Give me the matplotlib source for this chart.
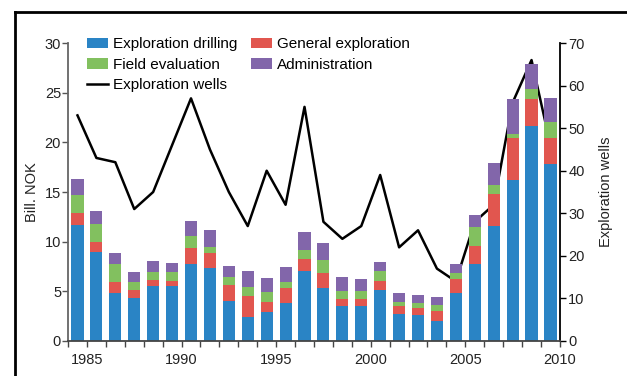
import numpy as np
import matplotlib.pyplot as plt
from matplotlib.lines import Line2D

plt.rcParams['font.family'] = ['Liberation Sans', 'DejaVu Sans']
plt.rcParams['font.size'] = 10.5

years = list(range(1985, 2011))

# Bill. NOK
drilling = [11.7, 9.0, 4.8, 4.35, 5.55, 5.55, 7.75, 7.35, 4.0, 2.4,
            2.9, 3.8, 7.05, 5.35, 3.5, 3.5, 5.15, 2.7, 2.6, 2.0,
            4.8, 7.75, 11.6, 16.2, 21.65, 17.8]
general = [1.2, 1.0, 1.15, 0.8, 0.6, 0.5, 1.6, 1.5, 1.6, 2.1,
           1.0, 1.55, 1.2, 1.5, 0.7, 0.7, 0.9, 0.8, 0.7, 1.0,
           1.45, 1.8, 3.2, 4.25, 2.7, 2.6]
field_eval = [1.75, 1.8, 1.8, 0.8, 0.8, 0.9, 1.2, 0.6, 0.8, 0.9,
              1.0, 0.55, 0.9, 1.3, 0.8, 0.8, 1.0, 0.4, 0.5, 0.6,
              0.6, 1.9, 0.9, 0.4, 1.0, 1.6]
admin = [1.7, 1.3, 1.1, 1.0, 1.1, 0.9, 1.5, 1.7, 1.2, 1.6,
         1.4, 1.5, 1.8, 1.7, 1.4, 1.2, 0.9, 0.9, 0.8, 0.8,
         0.9, 1.2, 2.2, 3.5, 2.5, 2.5]

# number of exploration wells (right axis)
wells = [53, 43, 42, 31, 35, 46, 57, 45, 35, 27,
         40, 32, 55, 28, 24, 27, 39, 22, 26, 17,
         14, 28, 32, 56, 66, 46]

year_labels = ["1985", "1990", "1995", "2000", "2005", "2010"]

c_drill = "#2a84c5"
c_general = "#e1564f"
c_field = "#82c05f"
c_admin = "#8266aa"

fig = plt.figure(figsize=(6.27, 3.76), dpi=100)
ax = fig.add_axes([0.1085, 0.0931, 0.7845, 0.7925])

x = np.arange(len(years))
w = 0.64
b1 = np.array(drilling)
b2 = b1 + np.array(general)
b3 = b2 + np.array(field_eval)

h_drill = ax.bar(x, drilling, w, color=c_drill, label="Exploration drilling")
h_gen = ax.bar(x, general, w, bottom=b1, color=c_general, label="General exploration")
h_field = ax.bar(x, field_eval, w, bottom=b2, color=c_field, label="Field evaluation")
h_admin = ax.bar(x, admin, w, bottom=b3, color=c_admin, label="Administration")

ax.set_xlim(-0.5, len(years) - 0.5)
ax.set_ylim(0, 30)
ax.set_yticks(range(0, 31, 5))
ax.set_ylabel("Bill. NOK", color="#222222", labelpad=4)

# year labels every 5 years, small ticks between every bar
ax.set_xticks([i + 0.5 for i in range(0, len(years), 5)])
ax.set_xticklabels(year_labels)
ax.set_xticks([i + 0.5 for i in range(-1, len(years))], minor=True)
ax.tick_params(axis="x", which="both", direction="out", length=4, width=1,
               color="#444444", pad=5, labelcolor="#222222")
ax.tick_params(axis="y", direction="out", length=4, width=1, color="#555555",
               labelcolor="#222222", pad=1)

for s in ["top", "right"]:
    ax.spines[s].set_visible(False)
ax.spines["left"].set_color("#666666")
ax.spines["bottom"].set_color("#444444")
ax.spines["left"].set_linewidth(1.3)
ax.spines["bottom"].set_linewidth(1.3)

ax2 = ax.twinx()
h_wells, = ax2.plot(x, wells, color="black", linewidth=1.8, label="Exploration wells")
ax2.set_ylim(0, 70)
ax2.set_yticks(range(0, 71, 10))
ax2.set_ylabel("Exploration wells", color="#222222", labelpad=10)
for s in ["top", "left", "bottom"]:
    ax2.spines[s].set_visible(False)
ax2.spines["right"].set_color("black")
ax2.spines["right"].set_linewidth(1.3)
ax2.tick_params(axis="y", direction="out", length=4, width=1, color="black",
                labelcolor="#222222", pad=2)

handles = [h_drill, h_field, h_wells, h_gen, h_admin]
ax.legend(handles=handles, labels=[h.get_label() for h in handles], ncol=2,
          loc="upper left", bbox_to_anchor=(0.026, 1.04), frameon=False,
          handlelength=1.4, handletextpad=0.3, columnspacing=0.9,
          labelspacing=0.42, borderaxespad=0.0, fontsize=11)
ax.set_zorder(ax2.get_zorder() + 1)
ax.patch.set_visible(False)

# outer frame (top and left edges are visible in the picture)
fig.add_artist(Line2D([14.5 / 627, 14.5 / 627], [0, 1 - 12 / 376], transform=fig.transFigure,
                      color="black", linewidth=2))
fig.add_artist(Line2D([14.5 / 627, 1], [1 - 12 / 376, 1 - 12 / 376], transform=fig.transFigure,
                      color="black", linewidth=2))

fig.savefig("out.png", dpi=100)
